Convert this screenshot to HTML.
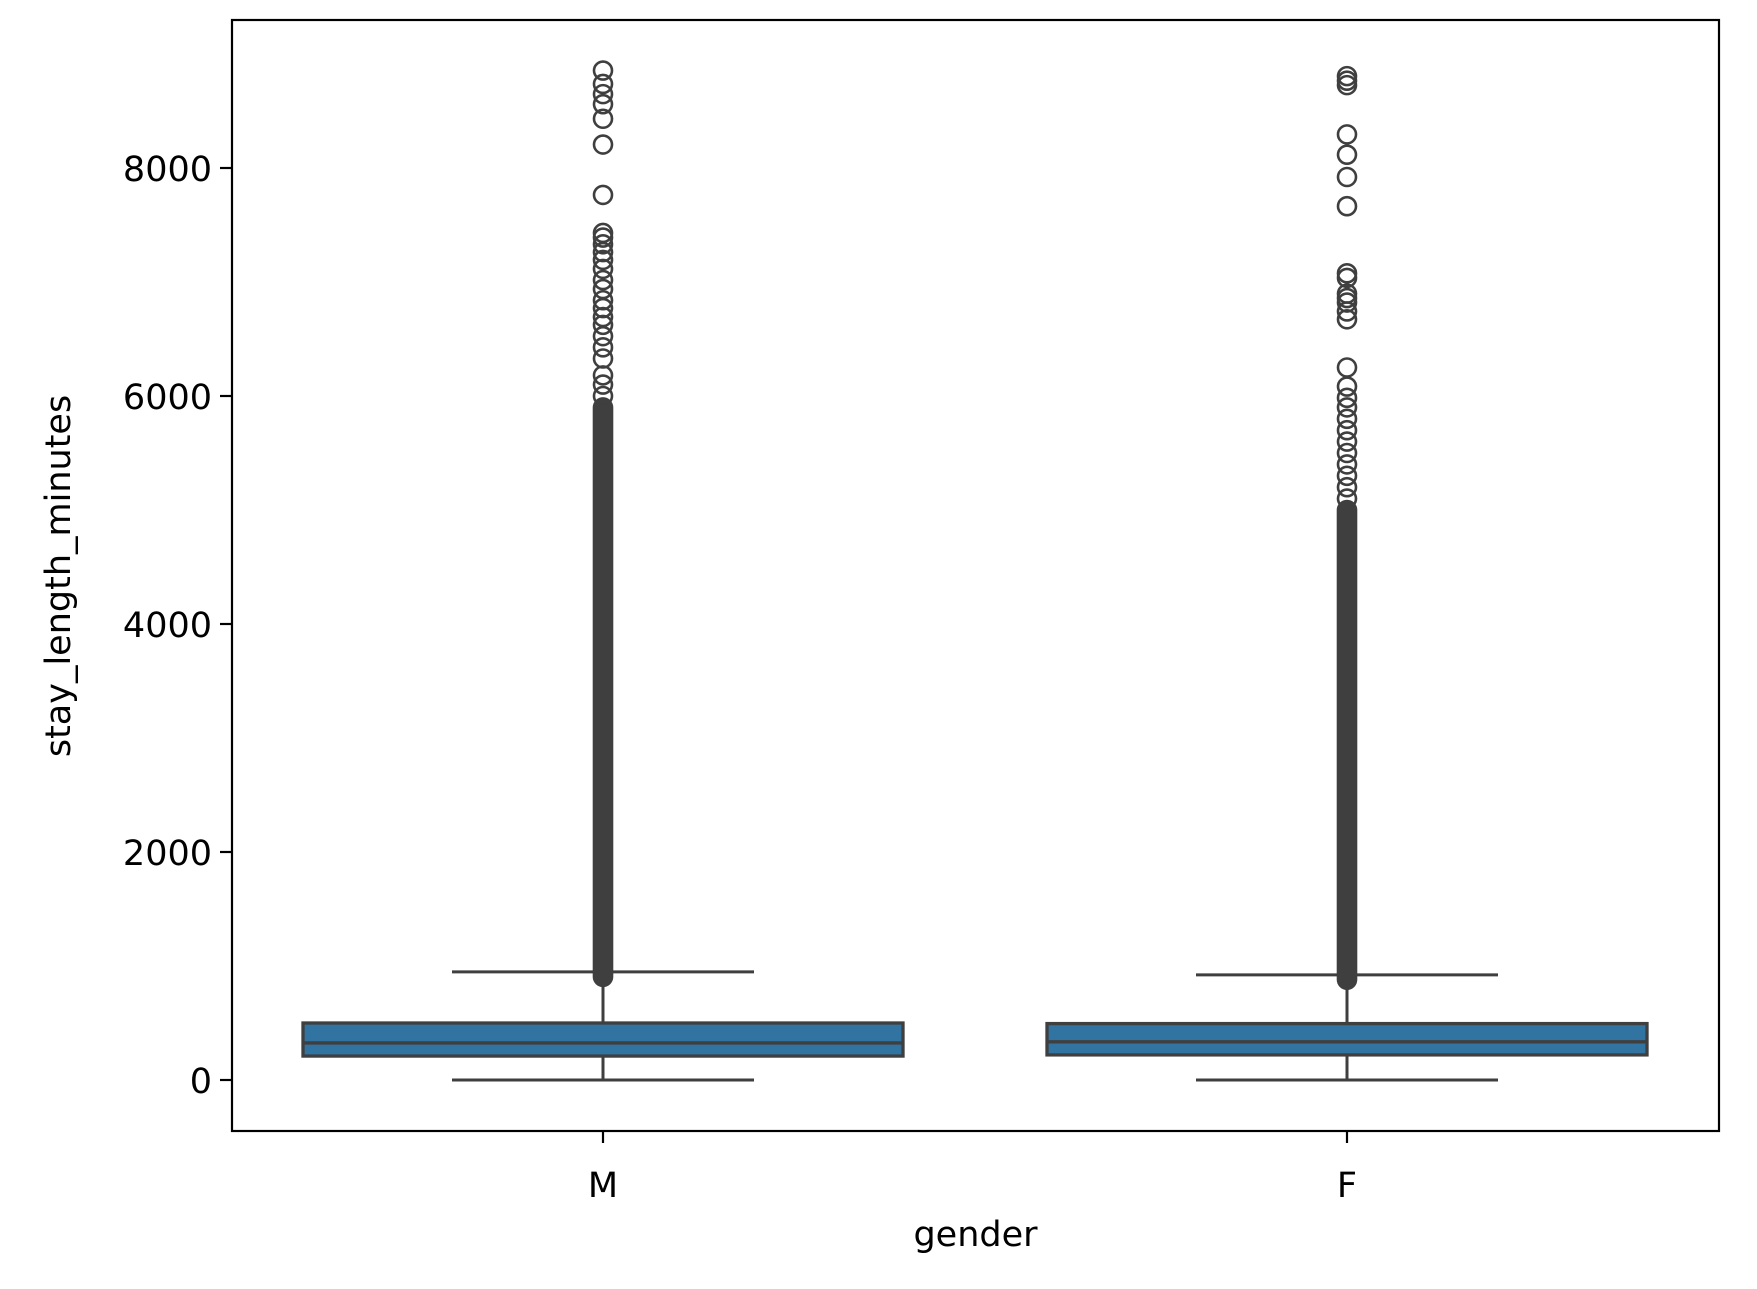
<!DOCTYPE html>
<html><head><meta charset="utf-8"><style>
html,body{margin:0;padding:0;background:#fff;}
svg{display:block;font-family:"DejaVu Sans","Liberation Sans",sans-serif;}
</style></head><body>
<svg id="chart" width="1757" height="1289" viewBox="0 0 1757 1289">
<rect x="0" y="0" width="1757" height="1289" fill="#fff"/>
<g id="plot"></g>
<g id="axes"></g>
</svg>
<script>
const categories = ["M", "F"];
const q1 = [210, 220];
const median = [325, 335];
const q3 = [500, 495];
const whiskerLow = [0, 0];
const whiskerHigh = [948, 922];
const denseLow = [905, 880];
const denseHigh = [5900, 5000];
const outliersM = [8855,8737,8648,8560,8432,8206,7764,7430,7390,7331,7262,7194,7115,7017,6938,6840,6771,6693,6624,6525,6427,6329,6181,6100,6000];
const outliersF = [8806,8766,8727,8295,8117,7921,7665,7076,7036,6898,6859,6820,6742,6673,6250,6083,5984,5900,5800,5700,5600,5500,5400,5300,5200,5100];
const outliers = [outliersM, outliersF];
const yTicks = [0, 2000, 4000, 6000, 8000];

const L=232, R=1719, T=20, B=1131;
const y0px=1080, y8000px=168;
function yScale(v){ return y0px + (y8000px - y0px) * v / 8000; }
function xScale(i){ return 603 + i * (1347 - 603); }
const NS="http://www.w3.org/2000/svg";
const plot=document.getElementById('plot'), axes=document.getElementById('axes');
function mk(tag, attrs, parent){ const e=document.createElementNS(NS,tag); for(const k in attrs) e.setAttribute(k,attrs[k]); parent.appendChild(e); return e; }
const C="#3f3f3f", halfBox=300, halfCap=151, r=9;

categories.forEach((c,i)=>{
  const cx=xScale(i);
  const g=mk('g',{},plot);
  
  
  let e;
  e=mk('line',{x1:cx,x2:cx,y1:yScale(whiskerLow[i]),y2:yScale(q1[i]),stroke:C,'stroke-width':3},g);
  
  
  e=mk('line',{x1:cx,x2:cx,y1:yScale(q3[i]),y2:yScale(whiskerHigh[i]),stroke:C,'stroke-width':3},g);
  
  
  e=mk('line',{x1:cx-halfCap,x2:cx+halfCap,y1:yScale(whiskerLow[i]),y2:yScale(whiskerLow[i]),stroke:C,'stroke-width':3},g);
  
  
  e=mk('line',{x1:cx-halfCap,x2:cx+halfCap,y1:yScale(whiskerHigh[i]),y2:yScale(whiskerHigh[i]),stroke:C,'stroke-width':3},g);
  
  
  e=mk('rect',{x:cx-halfBox,y:yScale(q3[i]),width:2*halfBox,height:yScale(q1[i])-yScale(q3[i]),fill:'#3274a1',stroke:C,'stroke-width':3.3},g);
  
  
  e=mk('line',{x1:cx-halfBox,x2:cx+halfBox,y1:yScale(median[i]),y2:yScale(median[i]),stroke:C,'stroke-width':3.3},g);
  
  
  e=mk('rect',{x:cx-r-1.3,y:yScale(denseHigh[i])-r-1.3,width:2*r+2.6,height:yScale(denseLow[i])-yScale(denseHigh[i])+2*r+2.6,rx:r+1.3,fill:C},g);
  
  
  outliers[i].forEach(v=>{
    const p=mk('circle',{cx:cx,cy:yScale(v),r:r,fill:'none',stroke:C,'stroke-width':2.6},g);
    
    
  });
  const t=mk('line',{x1:cx,x2:cx,y1:B,y2:B+12,stroke:'#000','stroke-width':2.2},axes);
  
  
  const lb=mk('text',{x:cx,y:1197,'text-anchor':'middle','font-size':35,fill:'#000'},axes);
  lb.textContent=c;
  
  
});

yTicks.forEach(v=>{
  const y=yScale(v);
  const t=mk('line',{x1:L-12,x2:L,y1:y,y2:y,stroke:'#000','stroke-width':2.2},axes);
  
  
  const lb=mk('text',{x:L-20,y:y+13,'text-anchor':'end','font-size':35,fill:'#000'},axes);
  lb.textContent=v;
  
  
});

const frame=mk('rect',{x:L,y:T,width:R-L,height:B-T,fill:'none',stroke:'#000','stroke-width':2.2},axes);


const xl=mk('text',{x:(L+R)/2,y:1246,'text-anchor':'middle','font-size':35,fill:'#000'},axes);
xl.textContent='gender';


const yl=mk('text',{x:0,y:0,'text-anchor':'middle','font-size':35,fill:'#000',transform:'translate(70,576) rotate(-90)'},axes);
yl.textContent='stay_length_minutes';


</script>
</body></html>
